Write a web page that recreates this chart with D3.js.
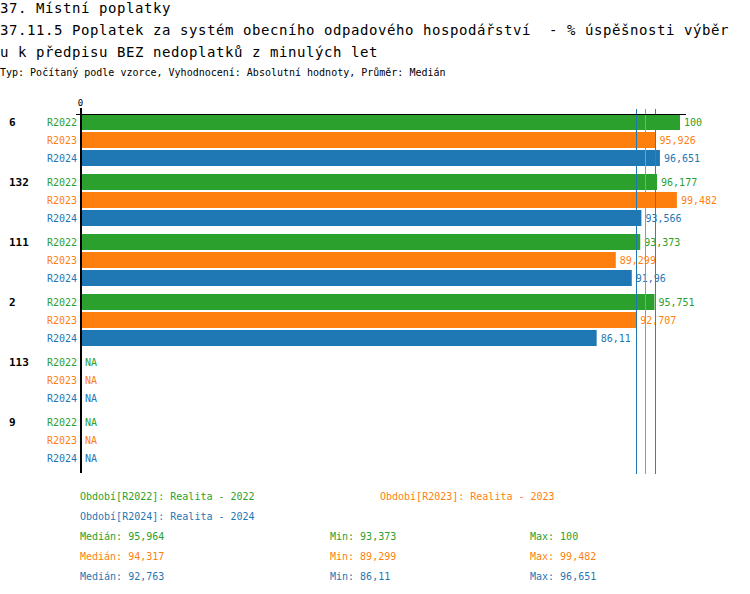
<!DOCTYPE html>
<html><head><meta charset="utf-8">
<script src="https://cdn.jsdelivr.net/npm/d3@7"></script>
<style>
body{margin:0;background:#fff;}
svg{display:block;font-family:"DejaVu Sans Mono","Liberation Mono",monospace;}
</style></head>
<body><svg id="c" width="750" height="594"></svg>
<script>
const categories = ["6","132","111","2","113","9"];
const series = ["R2022","R2023","R2024"];
const seriesColors = ["#2ca02c","#ff7f0e","#1f77b4"];
const valuesR2022 = [100, 96.177, 93.373, 95.751, null, null];
const valuesR2023 = [95.926, 99.482, 89.299, 92.707, null, null];
const valuesR2024 = [96.651, 93.566, 91.96, 86.11, null, null];
const medians = [95.964, 94.317, 92.763];
const mins = [93.373, 89.299, 86.11];
const maxs = [100, 99.482, 96.651];
const legendLabels = ["Období[R2022]: Realita - 2022","Období[R2023]: Realita - 2023","Období[R2024]: Realita - 2024"];
const titleLines = ["37. Místní poplatky","37.11.5 Poplatek za systém obecního odpadového hospodářství  - % úspěšnosti výběr","u k předpisu BEZ nedoplatků z minulých let"];
const subtitle = "Typ: Počítaný podle vzorce, Vyhodnocení: Absolutní hodnoty, Průměr: Medián";

const allValues = [valuesR2022, valuesR2023, valuesR2024];
const fmt = v => d3.format(".3~f")(v).replace(".", ",");

const svg = d3.select("#c");
const x = d3.scaleLinear().domain([0,100]).range([80,680]);
const yGroup = d3.scaleBand().domain(categories).range([114,474]);
const ySeries = d3.scaleBand().domain(series).range([0,52]).paddingInner(2/18);
const color = d3.scaleOrdinal().domain(series).range(seriesColors);

// titles
svg.selectAll("text.title").data(titleLines).join("text")
  .attr("class","title").attr("x",0).attr("y",(d,i)=>13+i*22)
  .attr("font-size",14).attr("letter-spacing","0.57px").attr("fill","#000").style("white-space","pre").text(d=>d);
svg.append("text").attr("x",0).attr("y",76).attr("font-size",10).attr("fill","#000").text(subtitle);

// bars
const rows = [];
categories.forEach((c,gi)=>series.forEach((s,si)=>rows.push({c,s,v:allValues[si][gi]})));
const rowY = d => yGroup(d.c) + ySeries(d.s);
svg.append("g").selectAll("rect").data(rows.filter(d=>d.v!=null)).join("rect")
  .attr("x",x(0)).attr("y",rowY).attr("width",d=>x(d.v)-x(0)).attr("height",ySeries.bandwidth())
  .attr("fill",d=>color(d.s));

// value labels
svg.append("g").selectAll("text").data(rows).join("text")
  .attr("x",d=>d.v!=null? x(d.v)+4 : x(0)+5).attr("y",d=>rowY(d)+ySeries.bandwidth()/2)
  .attr("dy","0.35em").attr("font-size",10).attr("fill",d=>color(d.s))
  .text(d=>d.v!=null? fmt(d.v) : "NA");

// series labels
svg.append("g").selectAll("text").data(rows).join("text")
  .attr("x",77).attr("y",d=>rowY(d)+ySeries.bandwidth()/2).attr("dy","0.35em")
  .attr("text-anchor","end").attr("font-size",10).attr("fill",d=>color(d.s)).text(d=>d.s);

// category labels
svg.append("g").selectAll("text").data(categories).join("text")
  .attr("x",9).attr("y",d=>yGroup(d)+ySeries("R2022")+ySeries.bandwidth()/2).attr("dy","0.35em")
  .attr("font-size",11).attr("font-weight","bold").attr("fill","#000").text(d=>d);

// median lines
svg.append("g").selectAll("line").data(medians).join("line")
  .attr("x1",d=>Math.floor(x(d))+0.5).attr("x2",d=>Math.floor(x(d))+0.5)
  .attr("y1",109).attr("y2",474).attr("stroke",(d,i)=>seriesColors[i]).attr("stroke-width",1);

// top axis
svg.append("line").attr("x1",76).attr("x2",686).attr("y1",114.5).attr("y2",114.5).attr("stroke","#000");
const ax = svg.append("g").attr("transform","translate(0,114)")
  .call(d3.axisTop(x).tickValues([0]).tickSizeInner(6).tickSizeOuter(0).tickPadding(2));
ax.select(".domain").remove();
ax.selectAll("text").attr("font-size",9).attr("font-family","DejaVu Sans Mono");
ax.selectAll("line").attr("stroke","#000");
// vertical axis
svg.append("line").attr("x1",81).attr("x2",81).attr("y1",108).attr("y2",473).attr("stroke","#000").attr("stroke-width",2);

// legend
const legPos = [[80,496],[380,496],[80,516]];
svg.append("g").selectAll("text").data(legendLabels).join("text")
  .attr("x",(d,i)=>legPos[i][0]).attr("y",(d,i)=>legPos[i][1]).attr("dy","0.35em")
  .attr("font-size",10).attr("fill",(d,i)=>seriesColors[i]).text(d=>d);

// stats
const stats = series.map((s,i)=>[["Medián: "+fmt(medians[i]),80],["Min: "+fmt(mins[i]),330],["Max: "+fmt(maxs[i]),530]].map(([t,xx])=>({t,xx,i})));
svg.append("g").selectAll("text").data(stats.flat()).join("text")
  .attr("x",d=>d.xx).attr("y",d=>536+d.i*20).attr("dy","0.35em")
  .attr("font-size",10).attr("fill",d=>seriesColors[d.i]).text(d=>d.t);
</script></body></html>
